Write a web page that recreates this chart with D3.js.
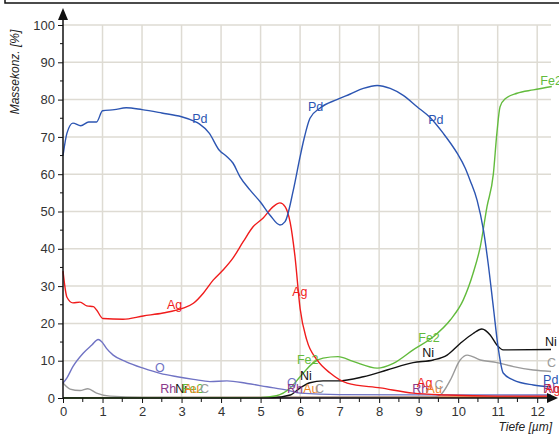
<!DOCTYPE html>
<meta charset="utf-8">
<style>
  body { margin: 0; background: #fff; }
  svg { font-family: "Liberation Sans", Arial, sans-serif; }
  .grid line { stroke: #dedbd3; stroke-width: 1.5; }
  .tick-label { font-size: 13px; fill: #333; }
  .series { fill: none; stroke-width: 1.4; }
  .lbl { font-size: 12.5px; }
</style>
<body>
<script src="https://cdn.jsdelivr.net/npm/d3@7"></script>
<script>

var width = 559,
    height = 435;

// depth [µm] / mass concentration [%]
var pd = [[0,65],[0.1,71],[0.25,73.7],[0.45,73],[0.65,74],[0.85,74],[1.0,77],[1.3,77.3],[1.6,77.8],[2.0,77.3],[2.5,76.4],[3.0,75.4],
  [3.3,74.3],[3.45,73.5],[3.7,71],[3.95,66.5],[4.15,64.7],[4.3,63],[4.48,59.3],[4.73,55.8],[4.99,52.6],[5.24,49],[5.49,46.4],
  [5.62,47.3],[5.83,55.8],[6.0,64.7],[6.1,69.5],[6.25,75],[6.5,77.7],[6.93,80],[7.27,81.5],[7.6,83],[7.95,83.8],[8.28,83],
  [8.6,81.2],[8.96,78.1],[9.29,75.2],[9.62,71],[9.97,65.7],[10.18,61.6],[10.3,58.4],[10.48,53],[10.64,45],[10.76,36],
  [10.89,24.4],[11.01,13.7],[11.14,6.7],[11.4,4.8],[11.9,3.5],[12.35,3]];
var ag = [[0,34],[0.1,27],[0.25,25.5],[0.43,25.7],[0.6,24.7],[0.77,24.5],[0.85,23.6],[1.01,21.3],[1.52,21.1],[2.03,22],[2.53,22.8],
  [3.04,24.1],[3.3,25.4],[3.55,28.1],[3.8,31.6],[4.05,34.3],[4.3,37.5],[4.56,41.9],[4.81,45.9],[5.06,48.2],[5.32,51.3],[5.49,52.3],
  [5.62,51.3],[5.75,47],[5.87,38],[6.0,24],[6.17,15.5],[6.43,10.2],[6.76,6.7],[7.19,4],[8.03,2.7],[8.86,1.3],[9.72,0.8],[11,0.5],[12.35,0.5]];
var fe2 = [[0,0],[5.0,0.1],[5.4,0.6],[5.75,2.7],[6.0,5.7],[6.34,9.5],[6.58,10.7],[6.96,11.1],[7.34,9.8],[7.95,8],[8.36,9.3],
  [8.86,12.9],[9.37,16.4],[9.8,20.9],[10.13,26.3],[10.38,33.5],[10.56,40.6],[10.73,51.3],[10.89,60],[10.98,71],[11.06,78.1],
  [11.2,80.3],[11.49,81.7],[11.9,82.6],[12.37,83.5]];
var ni = [[0,0.1],[5.3,0.1],[5.75,0.8],[6.0,2.7],[6.25,4.1],[6.58,4.6],[6.96,4.6],[7.6,5.7],[8.2,7.5],[8.86,9.5],[9.37,10.2],
  [9.72,11.5],[10.05,14.6],[10.38,17.3],[10.6,18.5],[10.81,16.9],[10.98,14.2],[11.14,12.9],[12.35,13]];
var c = [[0,4],[0.18,2.4],[0.43,2],[0.63,2.5],[0.85,1.3],[1.19,0.5],[2,0.2],[9.3,0.2],[9.54,0.8],[9.8,4.8],[10.05,10.2],
  [10.23,11.5],[10.56,10.2],[10.98,9.5],[11.4,8.4],[11.9,7.5],[12.35,7.1]];
var o = [[0,4],[0.1,5.4],[0.25,8.4],[0.51,12],[0.73,14.2],[0.89,15.7],[0.98,15.1],[1.1,13.3],[1.27,11.5],[1.6,9.7],[2.03,8],
  [2.46,6.6],[2.89,5.7],[3.3,5],[3.72,4.4],[4.15,4.6],[4.66,3.9],[5.16,3],[5.67,2.1],[6.0,1.3],[7,0.9],[12.35,0.8]];
var rh = [[0,0],[12.35,0.2]];
var au = [[0,0.1],[12.35,0.3]];

var seriesNames = ["Rh", "Au", "C", "Ni", "O", "Fe2", "Ag", "Pd"];
var seriesData = [rh, au, c, ni, o, fe2, ag, pd];
var seriesColors = ["#8b3a8b", "#f0862a", "#9a9a9a", "#111111", "#7073c4", "#62bb3c", "#f01c1c", "#2c55b2"];

// inline labels: [series, depth, value]
var labels = [
  ["Pd", 3.27, 73.7], ["Pd", 6.2, 77], ["Pd", 9.24, 73.5], ["Ag", 2.63, 23.9], ["Ag", 5.8, 27.3],
  ["O", 2.33, 7], ["Fe2", 12.08, 83.9], ["Fe2", 8.99, 15], ["Ni", 9.09, 11], ["Fe2", 5.92, 9.1],
  ["Ni", 6.0, 4.8], ["Ni", 12.2, 13.9], ["C", 12.25, 8.3], ["Pd", 12.15, 3.75], ["Rh", 12.15, 1.3], ["Ag", 12.2, 1.3],
  ["Rh", 2.46, 1.3], ["Ni", 2.84, 1.3], ["Fe2", 3.01, 1.3], ["Au", 3.06, 1.3], ["C", 3.47, 1.3],
  ["O", 5.67, 2.9], ["Rh", 5.67, 1.3], ["Au", 6.08, 1.3], ["C", 6.38, 1.3],
  ["Rh", 8.84, 1.3], ["Ag", 8.96, 2.9], ["Au", 9.2, 1.3], ["C", 9.4, 2.4]
];

var xTicks = d3.range(0, 13);
var yTicks = d3.range(0, 101, 10);

var svg = d3.select("body").append("svg")
    .attr("width", width)
    .attr("height", height);

// frame of the box above
svg.append("path")
    .attr("d", "M5,0V3H559")
    .attr("fill", "none").attr("stroke", "#111").attr("stroke-width", 1.5);

var x = d3.scaleLinear().domain([0, 12.4]).range([63, 553]);
var y = d3.scaleLinear().domain([0, 100]).range([398, 25]);

var grid = svg.append("g").attr("class", "grid");
grid.selectAll(".v").data(xTicks.slice(1))
  .enter().append("line")
    .attr("x1", function(d) { return x(d); }).attr("x2", function(d) { return x(d); })
    .attr("y1", y(100)).attr("y2", y(0));
grid.selectAll(".h").data(yTicks.slice(1))
  .enter().append("line")
    .attr("x1", x(0)).attr("x2", 551)
    .attr("y1", function(d) { return y(d); }).attr("y2", function(d) { return y(d); });

var line = d3.line()
    .x(function(d) { return x(d[0]); })
    .y(function(d) { return y(d[1]); })
    .curve(d3.curveMonotoneX);

svg.selectAll(".series")
    .data(seriesData)
  .enter().append("path")
    .attr("class", "series")
    .attr("stroke", function(d, i) { return seriesColors[i]; })
    .attr("d", line);

var colorOf = {};
seriesNames.forEach(function(n, i) { colorOf[n] = seriesColors[i]; });

svg.selectAll(".lbl")
    .data(labels)
  .enter().append("text")
    .attr("class", "lbl")
    .attr("x", function(d) { return x(d[1]); })
    .attr("y", function(d) { return y(d[2]); })
    .attr("fill", function(d) { return colorOf[d[0]]; })
    .text(function(d) { return d[0]; });

// axes
var yAxis = d3.axisLeft(y).tickValues(yTicks).tickSize(5).tickPadding(3);
var gy = svg.append("g").attr("transform", "translate(" + x(0) + ",0)").call(yAxis);
gy.select(".domain").remove();
gy.selectAll("text").attr("class", "tick-label").attr("font-family", null).attr("font-size", null);
gy.selectAll("line").attr("stroke", "#111");
svg.append("g").selectAll("line").data(d3.range(5, 100, 10))
  .enter().append("line")
    .attr("x1", x(0) - 3).attr("x2", x(0))
    .attr("y1", function(d) { return y(d); }).attr("y2", function(d) { return y(d); })
    .attr("stroke", "#111");

var xAxis = d3.axisBottom(x).tickValues(xTicks).tickSize(5).tickPadding(4).tickFormat(d3.format("d"));
var gx = svg.append("g").attr("transform", "translate(0," + y(0) + ")").call(xAxis);
gx.select(".domain").remove();
gx.selectAll("text").attr("class", "tick-label").attr("font-family", null).attr("font-size", null);
gx.selectAll("line").attr("stroke", "#111");
svg.append("g").selectAll("line").data(d3.range(0.5, 12.5, 1))
  .enter().append("line")
    .attr("x1", function(d) { return x(d); }).attr("x2", function(d) { return x(d); })
    .attr("y1", y(0)).attr("y2", y(0) + 4)
    .attr("stroke", "#111");

svg.append("line").attr("x1", x(0)).attr("x2", x(0)).attr("y1", y(0)).attr("y2", 14)
    .attr("stroke", "#111").attr("stroke-width", 1.5);
svg.append("path").attr("d", "M" + (x(0) - 5) + ",20L" + x(0) + ",8L" + (x(0) + 5) + ",20Z").attr("fill", "#111");
svg.append("line").attr("x1", x(0)).attr("x2", 551).attr("y1", y(0)).attr("y2", y(0))
    .attr("stroke", "#111").attr("stroke-width", 1.5);
svg.append("path").attr("d", "M547," + (y(0) - 5) + "L558," + y(0) + "L547," + (y(0) + 5) + "Z").attr("fill", "#111");

svg.append("text")
    .attr("transform", "translate(19,72) rotate(-90)")
    .attr("text-anchor", "middle")
    .attr("font-size", 12)
    .attr("font-style", "italic")
    .attr("fill", "#222")
    .text("Massekonz. [%]");

svg.append("text")
    .attr("x", 552).attr("y", 431)
    .attr("text-anchor", "end")
    .attr("font-size", 12)
    .attr("font-style", "italic")
    .attr("fill", "#222")
    .text("Tiefe [µm]");

</script>
